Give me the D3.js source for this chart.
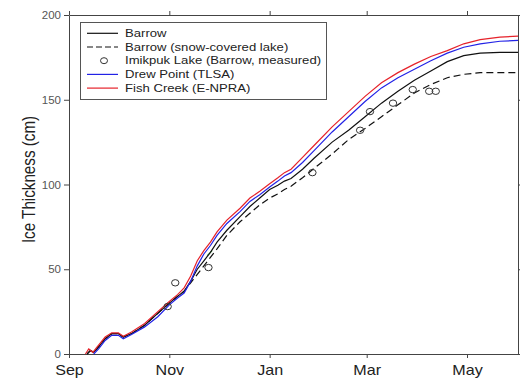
<!DOCTYPE html>
<html>
<head>
<meta charset="utf-8">
<script src="https://d3js.org/d3.v7.min.js"></script>
<style>
  body { margin: 0; background: #fff; }
  svg { font-family: "Liberation Sans", Arial, sans-serif; }
</style>
</head>
<body>
<div id="chart"></div>
<script>
// days since 1 Sep, ice thickness in cm
const fishCreek = [[10,0],[12,3],[14.5,1],[16.5,3.5],[22,10],[26,12.5],[30,12.5],[33,10.5],[38,13],[46,18],[54,25],[61,31],[66,35],[70,39],[74,46],[78,55],[82,61],[86,66],[90,72],[96,79],[104,86],[110,92],[116,96],[122,100.5],[127,104],[131,107],[135,109],[142,116],[149,123],[160,134],[170,143],[180,152],[190,160],[200,166],[210,171],[220,175.5],[230,179],[240,183],[250,185.5],[262,187],[273,187.5]];
const drewPoint = [[15,0],[18,3],[22,8],[26,11],[30,11],[33,9],[38,11.5],[46,16],[54,22],[61,29],[66,33],[70,36],[74,43],[78,52],[82,59],[86,64],[90,70],[96,77],[104,84],[110,90],[116,94],[122,98.5],[127,102],[131,105],[135,107],[142,113],[149,120],[160,131],[170,140],[180,149],[190,157],[200,163],[210,168],[220,173],[230,177.5],[240,181],[250,183],[262,184.5],[273,185]];
const barrow = [[11,0],[13,2],[15,1],[17,3],[22,9],[26,12],[30,12],[33,10],[38,12],[46,17],[54,24],[61,30],[66,34],[70,37],[74,43],[78,50],[82,55],[86,60],[90,66],[96,73],[104,81],[110,87],[116,92],[122,97],[127,99.5],[131,102],[135,103.5],[142,109],[149,115.5],[160,125],[170,132],[180,140],[190,148],[200,155],[210,161.5],[220,167],[230,172.5],[240,176],[250,177.5],[262,178],[273,178]];
const barrowSnow = [[11,0],[13,2],[15,1],[17,3],[22,9],[26,12],[30,12],[33,10],[38,12],[46,17],[54,24],[61,30],[66,34],[70,37],[74,42],[78,47],[82,52],[86,57],[90,62],[96,70],[104,78],[110,83],[116,88],[122,92],[127,94.5],[131,97],[135,99],[142,104],[149,109.5],[160,118],[170,126.5],[180,133],[190,140],[200,147],[210,154],[220,159],[230,163],[240,165],[250,166],[262,166],[273,166]];
const greenBit = [[84,58],[87,61]];
const imikpuk = [[60,28],[64.6,42],[84.8,51],[148,107],[177,132],[183,143],[197,148],[209,156],[219,155],[223,155]];
const yTicks = [0, 50, 100, 150, 200];
const legendLabels = ["Barrow", "Barrow (snow-covered lake)", "Imikpuk Lake (Barrow, measured)", "Drew Point (TLSA)", "Fish Creek (E-NPRA)"];

const w = 520, h = 385;
const padLeft = 69, padRight = 518, padTop = 15, padBottom = 354;
const start = new Date(2012, 8, 1);
const toDate = (d) => new Date(start.getTime() + d * 86400000);

const svg = d3.select("#chart").append("svg")
    .attr("width", w)
    .attr("height", h);

const x = d3.scaleTime()
    .domain([start, new Date(2013, 5, 1)])
    .range([padLeft, padRight]);
const y = d3.scaleLinear()
    .domain([0, 200])
    .range([padBottom, padTop]);

const axisColor = "#444";

// frame axes
svg.append("g")
    .attr("transform", "translate(0," + padBottom + ")")
    .call(d3.axisBottom(x).ticks(d3.timeMonth.every(2)).tickFormat(d3.timeFormat("%b")).tickSize(4).tickSizeOuter(0))
    .call(g => g.select(".domain").attr("stroke", axisColor))
    .call(g => g.selectAll(".tick line").attr("stroke", axisColor))
    .call(g => g.selectAll(".tick text")
        .attr("y", 11).attr("dy", "0.71em")
        .attr("fill", "#222")
        .style("font-size", "14px")
        .attr("transform", "scale(1.15,1)"));

svg.append("g")
    .attr("transform", "translate(0," + padTop + ")")
    .call(d3.axisTop(x).ticks(d3.timeMonth.every(2)).tickFormat("").tickSize(4).tickSizeOuter(0))
    .call(g => g.select(".domain").attr("stroke", axisColor))
    .call(g => g.selectAll(".tick line").attr("stroke", axisColor));

svg.append("g")
    .attr("transform", "translate(" + padLeft + ",0)")
    .call(d3.axisLeft(y).tickValues(yTicks).tickSize(5).tickPadding(3).tickSizeOuter(0))
    .call(g => g.select(".domain").attr("stroke", axisColor))
    .call(g => g.selectAll(".tick line").attr("stroke", axisColor))
    .call(g => g.selectAll(".tick text").attr("fill", "#555").style("font-size", "11.5px"));

svg.append("g")
    .attr("transform", "translate(" + padRight + ",0)")
    .call(d3.axisRight(y).tickValues(yTicks).tickFormat("").tickSize(4).tickSizeOuter(0))
    .call(g => g.select(".domain").attr("stroke", axisColor))
    .call(g => g.selectAll(".tick line").attr("stroke", axisColor));

svg.append("text")
    .attr("transform", "translate(29," + ((padTop + padBottom) / 2 - 5) + ") rotate(-90) scale(0.95,1.1)")
    .attr("text-anchor", "middle")
    .attr("dy", "0.35em")
    .style("font-size", "16px")
    .attr("fill", "#222")
    .text("Ice Thickness (cm)");

// lines
const line = d3.line()
    .x(d => x(toDate(d[0])))
    .y(d => y(d[1]));

const plot = svg.append("g");

plot.append("path").datum(barrowSnow)
    .attr("d", line).attr("fill", "none")
    .attr("stroke", "#111").attr("stroke-width", 1.2)
    .attr("stroke-dasharray", "7,4");

plot.append("path").datum(greenBit)
    .attr("d", line).attr("fill", "none")
    .attr("stroke", "#5c5").attr("stroke-width", 1.2);

plot.append("path").datum(barrow)
    .attr("d", line).attr("fill", "none")
    .attr("stroke", "#111").attr("stroke-width", 1.2);

plot.append("path").datum(drewPoint)
    .attr("d", line).attr("fill", "none")
    .attr("stroke", "#2222e6").attr("stroke-width", 1.2);

plot.append("path").datum(fishCreek)
    .attr("d", line).attr("fill", "none")
    .attr("stroke", "#e6222a").attr("stroke-width", 1.2);

plot.selectAll(".obs")
    .data(imikpuk)
    .enter()
    .append("ellipse")
    .attr("class", "obs")
    .attr("cx", d => x(toDate(d[0])))
    .attr("cy", d => y(d[1]))
    .attr("rx", 3.7)
    .attr("ry", 3.2)
    .attr("fill", "none")
    .attr("stroke", "#333")
    .attr("stroke-width", 1);

// legend
const legend = svg.append("g");
legend.append("rect")
    .attr("x", 80.5).attr("y", 22.5)
    .attr("width", 246).attr("height", 77)
    .attr("fill", "#fff")
    .attr("stroke", "#555");

const rowY = (i) => 33.3 + i * 13.7;
const sampleStyles = [
    { stroke: "#111", dash: null },
    { stroke: "#111", dash: "6,3" },
    null,
    { stroke: "#2222e6", dash: null },
    { stroke: "#e6222a", dash: null }
];

legendLabels.forEach((label, i) => {
    const s = sampleStyles[i];
    if (s) {
        legend.append("line")
            .attr("x1", 87).attr("x2", 118)
            .attr("y1", rowY(i)).attr("y2", rowY(i))
            .attr("stroke", s.stroke).attr("stroke-width", 1.2)
            .attr("stroke-dasharray", s.dash);
    } else {
        legend.append("ellipse")
            .attr("cx", 104).attr("cy", rowY(i))
            .attr("rx", 3.5).attr("ry", 3)
            .attr("fill", "none").attr("stroke", "#333");
    }
    legend.append("text")
        .attr("transform", "translate(125," + rowY(i) + ") scale(1.25,1)")
        .attr("dy", "0.35em")
        .style("font-size", "10.5px")
        .attr("fill", "#222")
        .text(label);
});
</script>
</body>
</html>
